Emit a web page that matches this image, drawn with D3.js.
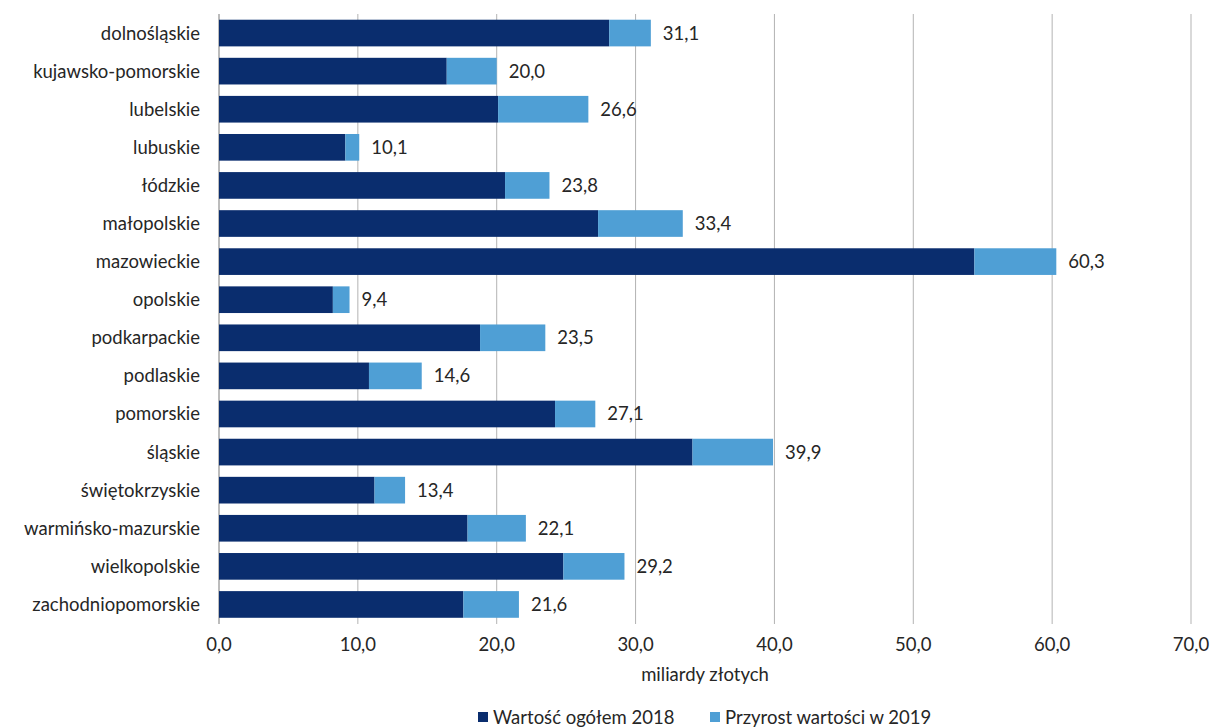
<!DOCTYPE html>
<html><head><meta charset="utf-8">
<script src="https://cdn.jsdelivr.net/npm/d3@7"></script>
<style>body{margin:0;background:#fff;} text{font-family:Lato,"Open Sans",sans-serif;fill:#262626;}</style>
</head><body>
<svg id="c" width="1221" height="728"></svg>
<script>
const categories = ["dolnośląskie","kujawsko-pomorskie","lubelskie","lubuskie","łódzkie","małopolskie","mazowieckie","opolskie","podkarpackie","podlaskie","pomorskie","śląskie","świętokrzyskie","warmińsko-mazurskie","wielkopolskie","zachodniopomorskie"];
const value2018 = [28.1,16.4,20.1,9.1,20.6,27.3,54.4,8.2,18.8,10.8,24.2,34.1,11.2,17.9,24.8,17.6];
const growth2019 = [3.0,3.6,6.5,1.0,3.2,6.1,5.9,1.2,4.7,3.8,2.9,5.8,2.2,4.2,4.4,4.0];
const totalLabels = ["31,1","20,0","26,6","10,1","23,8","33,4","60,3","9,4","23,5","14,6","27,1","39,9","13,4","22,1","29,2","21,6"];
const xTicks = [0,10,20,30,40,50,60,70];
const seriesNames = ["Wartość ogółem 2018","Przyrost wartości w 2019"];
const colors = ["#0a2d6e","#4f9fd5"];
const axisTitle = "miliardy złotych";

const svg = d3.select("#c");
const x = d3.scaleLinear().domain([0,70]).range([219,1191]);
const y = d3.scaleBand().domain(categories).range([14,623.5]).paddingInner(0.3).paddingOuter(0.15);
const fs = 18.5;

// gridlines
svg.append("g").selectAll("line").data(xTicks).join("line")
  .attr("x1",d=>x(d)).attr("x2",d=>x(d)).attr("y1",14).attr("y2",624)
  .attr("stroke",d=>d===0?"#a6a6a6":"#b3b3b3").attr("stroke-width",d=>d===0?1.5:1);

const rows = categories.map((c,i)=>({c, a:value2018[i], b:growth2019[i], lab:totalLabels[i]}));
const g = svg.append("g");
g.selectAll("rect.a").data(rows).join("rect").attr("class","a")
  .attr("x",x(0)).attr("y",d=>y(d.c)).attr("width",d=>x(d.a)-x(0)).attr("height",y.bandwidth()).attr("fill",colors[0]);
g.selectAll("rect.b").data(rows).join("rect").attr("class","b")
  .attr("x",d=>x(d.a)).attr("y",d=>y(d.c)).attr("width",d=>x(d.a+d.b)-x(d.a)).attr("height",y.bandwidth()).attr("fill",colors[1]);
g.selectAll("text.v").data(rows).join("text").attr("class","v")
  .attr("x",d=>x(d.a+d.b)+12).attr("y",d=>y(d.c)+y.bandwidth()/2).attr("dy","0.35em")
  .attr("font-size",fs).text(d=>d.lab);

// y axis labels
svg.append("g").selectAll("text").data(categories).join("text")
  .attr("x",200).attr("y",d=>y(d)+y.bandwidth()/2).attr("dy","0.35em").attr("text-anchor","end")
  .attr("font-size",fs).text(d=>d);

// x tick labels
const fmt = d=>d3.format(".1f")(d).replace(".",",");
svg.append("g").selectAll("text").data(xTicks).join("text")
  .attr("x",d=>x(d)).attr("y",645).attr("dy","0.35em").attr("text-anchor","middle")
  .attr("font-size",fs).text(fmt);

svg.append("text").attr("x",705).attr("y",675).attr("dy","0.35em").attr("text-anchor","middle")
  .attr("font-size",fs).text(axisTitle);

// legend
const leg = [{x:478,tx:493},{x:710,tx:725}];
seriesNames.forEach((n,i)=>{
  svg.append("rect").attr("x",leg[i].x).attr("y",712).attr("width",10).attr("height",10).attr("fill",colors[i]);
  svg.append("text").attr("x",leg[i].tx).attr("y",718).attr("dy","0.35em").attr("font-size",fs).text(n);
});
</script>
</body></html>
